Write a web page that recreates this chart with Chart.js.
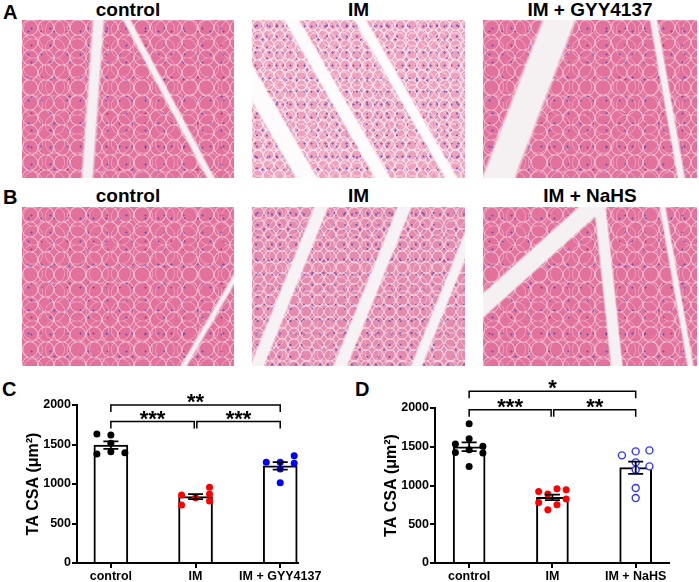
<!DOCTYPE html>
<html>
<head>
<meta charset="utf-8">
<script src="https://cdn.jsdelivr.net/npm/chart.js@4.4.1/dist/chart.umd.min.js"></script>
<style>
  body { margin: 0; width: 699px; height: 582px; background: #fff; position: relative; overflow: hidden;
         font-family: "Liberation Sans", Arial, sans-serif; font-weight: bold; color: #000; }
  .lbl { position: absolute; font-size: 20px; line-height: 1; }
  .tt { position: absolute; font-size: 19px; line-height: 1; text-align: center; }
  .img { position: absolute; }
  canvas { position: absolute; }
</style>
</head>
<body>
<div class="lbl" style="left:3px;top:2px">A</div>
<div class="lbl" style="left:3px;top:187px">B</div>
<div class="lbl" style="left:2px;top:379px">C</div>
<div class="lbl" style="left:355px;top:379px">D</div>

<div class="tt" style="left:22px;top:0;width:212px">control</div>
<div class="tt" style="left:252px;top:0;width:213px">IM</div>
<div class="tt" style="left:483px;top:0;width:214px">IM + GYY4137</div>
<div class="tt" style="left:22px;top:186px;width:212px">control</div>
<div class="tt" style="left:252px;top:186px;width:213px">IM</div>
<div class="tt" style="left:483px;top:186px;width:214px">IM + NaHS</div>

<!-- cortes histologicos (solo aproximacion) -->
<div class="img" id="A1" style="left:22px;top:20px;width:212px;height:158px"></div>
<div class="img" id="A2" style="left:252px;top:20px;width:213px;height:158px"></div>
<div class="img" id="A3" style="left:483px;top:20px;width:214px;height:158px"></div>
<div class="img" id="B1" style="left:22px;top:207px;width:212px;height:159px"></div>
<div class="img" id="B2" style="left:252px;top:207px;width:213px;height:159px"></div>
<div class="img" id="B3" style="left:483px;top:207px;width:214px;height:159px"></div>

<canvas id="graficoC" width="350" height="207" style="left:0;top:375px"></canvas>
<canvas id="graficoD" width="349" height="207" style="left:350px;top:375px"></canvas>

<script>
// datos panel C
const catsC = ['control', 'IM', 'IM + GYY4137'];
const ctrlC = [1633, 1620, 1515, 1380, 1409, 1396];
const imC = [861, 827, 958, 873, 785, 734];
const gyyC = [1275, 1275, 1190, 1358, 1262, 1016];
// carril de cada punto dentro de la columna (como lo reparte Prism)
const ctrlCLane = [-3, 0, 0, -3, 0, 3];
const imCLane = [-3, 0, 3, 3, 3, -3];
const gyyCLane = [-3, 0, 0, 3, 3, 0];

// datos panel D
const catsD = ['control', 'IM', 'IM + NaHS'];
const ctrlD = [1797, 1604, 1535, 1505, 1462, 1427, 1419, 1246];
const imD = [959, 946, 924, 890, 826, 782, 752, 688];
const nahsD = [1453, 1440, 1389, 1298, 1247, 1204, 968, 839];
const ctrlDLane = [0, 0, -3, 3, 0, -3, 3, 0];
const imDLane = [1, 3, -3, -1, 3, -3, 1, -1];
const nahsDLane = [3, 0, -3, 0, 3, 0, 0, 0];

const yTicks = [0, 500, 1000, 1500, 2000];
// [desde, hasta, altura, texto]
const sigC = [[0, 2, 2000, '**'], [0, 1, 1790, '***'], [1, 2, 1790, '***']];
const sigD = [[0, 2, 2215, '*'], [0, 1, 1978, '***'], [1, 2, 1978, '**']];

const LANE = 0.055;

// textura de los cortes (fibras + nucleos), no son datos
const W = '#f5f0f2';
function anillo(r, c) {
  return `radial-gradient(circle, transparent 0 ${r}px, ${c} ${r + 0.5}px ${r + 1.1}px, transparent ${r + 1.6}px)`;
}
const nucleo = 'radial-gradient(circle, rgba(95,70,170,.75) 0 .8px, transparent 1.4px)';
const tejidos = {
  ctl: { base: '#e2729c', capas: [anillo(6.8, 'rgba(250,228,238,.55)'), anillo(8.8, 'rgba(250,228,238,.3)'), nucleo, nucleo],
         tam: ['16px 15px', '22px 19px', '19px 17px', '13px 23px'] },
  im: { base: '#eea0bd', capas: [anillo(4.3, 'rgba(255,246,250,.7)'), anillo(5.6, 'rgba(255,246,250,.4)'), nucleo, nucleo],
        tam: ['11px 10px', '14px 13px', '10px 11px', '7px 13px'] },
  im2: { base: '#e68aae', capas: [anillo(4.7, 'rgba(250,236,242,.65)'), anillo(6.1, 'rgba(250,236,242,.35)'), nucleo, nucleo],
         tam: ['12px 11px', '16px 14px', '11px 12px', '8px 15px'] }
};
const cortes = [
  ['A1', 'ctl', [`linear-gradient(94deg, transparent 0 31%, ${W} 32.5% 36%, transparent 37.5%)`,
                 `linear-gradient(62deg, transparent 0 62%, ${W} 63% 64.5%, transparent 65.5%)`]],
  ['A2', 'im', [`linear-gradient(60deg, transparent 0 14%, #fdfbfc 15% 21%, transparent 22% 40%, #fdfbfc 41% 45%, transparent 46% 63%, #fdfbfc 64% 67%, transparent 68%)`]],
  ['A3', 'ctl', [`linear-gradient(111deg, transparent 0 21%, ${W} 22.5% 33%, transparent 34.5%)`,
                 `linear-gradient(80deg, transparent 0 80%, ${W} 81% 83%, transparent 84%)`]],
  ['B1', 'ctl', [`linear-gradient(120deg, transparent 0 82%, ${W} 83% 84%, transparent 85%)`]],
  ['B2', 'im2', [`linear-gradient(112deg, transparent 0 22%, #f7f3f4 23% 27%, transparent 28% 52%, #f7f3f4 53% 57%, transparent 58% 80%, #f7f3f4 81% 84%, transparent 85%)`]],
  ['B3', 'ctl', [`linear-gradient(138deg, transparent 0 24%, ${W} 25% 31%, transparent 32%)`,
                 `linear-gradient(84deg, transparent 0 55%, ${W} 56% 60%, transparent 61%)`,
                 `linear-gradient(80deg, transparent 0 84%, ${W} 85% 86.5%, transparent 87.5%)`]]
];
cortes.forEach(([id, tipo, bandas]) => {
  const t = tejidos[tipo];
  const el = document.getElementById(id);
  el.style.backgroundColor = t.base;
  el.style.backgroundImage = bandas.concat(t.capas).join(',');
  el.style.backgroundSize = bandas.map(() => '100% 100%').concat(t.tam).join(',');
});

Chart.defaults.font.family = '"Liberation Sans", Arial, sans-serif';
Chart.defaults.font.weight = 'bold';
Chart.defaults.color = '#000';

function media(a) { return a.reduce((s, v) => s + v, 0) / a.length; }
function sem(a) {
  const m = media(a);
  const v = a.reduce((s, x) => s + (x - m) * (x - m), 0) / (a.length - 1);
  return Math.sqrt(v / a.length);
}

// barras de error y corchetes de significancia
const extras = {
  id: 'extras',
  afterDatasetsDraw(chart, args, o) {
    const { ctx, scales: { x, y } } = chart;
    ctx.save();
    ctx.strokeStyle = '#000';
    ctx.lineWidth = 1.8;
    o.groups.forEach((g, i) => {
      const m = media(g), s = sem(g);
      const cx = x.getPixelForValue(i);
      const t = y.getPixelForValue(m + s), b = y.getPixelForValue(m - s);
      ctx.beginPath();
      ctx.moveTo(cx, t); ctx.lineTo(cx, b);
      ctx.moveTo(cx - 7.5, t); ctx.lineTo(cx + 7.5, t);
      ctx.moveTo(cx - 7.5, b); ctx.lineTo(cx + 7.5, b);
      ctx.stroke();
    });
    ctx.lineWidth = 1.5;
    ctx.fillStyle = '#000';
    ctx.font = 'bold 22px "Liberation Sans", Arial, sans-serif';
    ctx.textAlign = 'center';
    ctx.textBaseline = 'alphabetic';
    o.sig.forEach(([a, b, h, txt]) => {
      const yy = y.getPixelForValue(h);
      let xa = x.getPixelForValue(a), xb = x.getPixelForValue(b);
      if (o.sig.some(s => s[2] === h && s[1] === a)) xa += 1.3;
      if (o.sig.some(s => s[2] === h && s[0] === b)) xb -= 1.3;
      ctx.beginPath();
      ctx.moveTo(xa, yy + 7); ctx.lineTo(xa, yy); ctx.lineTo(xb, yy); ctx.lineTo(xb, yy + 7);
      ctx.stroke();
      ctx.fillText(txt, (xa + xb) / 2, yy + 4);
    });
    ctx.restore();
  }
};

function grafico(id, cats, groups, lanes, colores, huecos, cfg) {
  const datasets = [{
    type: 'bar',
    data: groups.map((g, i) => ({ x: i, y: media(g) })),
    backgroundColor: '#fff',
    borderColor: '#000',
    borderWidth: 2,
    barThickness: cfg.barPx,
    order: 2
  }];
  groups.forEach((g, i) => {
    datasets.push({
      type: 'scatter',
      data: g.map((v, k) => ({ x: i + lanes[i][k] * LANE, y: v })),
      pointRadius: 3.5,
      pointBackgroundColor: huecos[i] ? '#fff' : colores[i],
      pointBorderColor: colores[i],
      pointBorderWidth: huecos[i] ? 1.4 : 0,
      order: 1
    });
  });

  const ejeGrid = { display: true, drawOnChartArea: false, drawTicks: true, tickLength: 5, color: '#000', lineWidth: 2, offset: false };
  const ejeBorde = { display: true, color: '#000', width: 2 };

  new Chart(document.getElementById(id), {
    type: 'bar',
    data: { datasets },
    options: {
      responsive: false,
      animation: false,
      events: [],
      layout: { padding: { top: cfg.top, right: cfg.right, left: 0, bottom: 0 } },
      plugins: {
        legend: { display: false },
        tooltip: { enabled: false },
        extras: { groups, sig: cfg.sig }
      },
      scales: {
        x: {
          type: 'linear',
          min: cfg.xMin,
          max: cfg.xMax,
          offset: false,
          afterBuildTicks: s => { s.ticks = cats.map((c, i) => ({ value: i })); },
          afterFit: s => { s.height = cfg.xh; },
          grid: ejeGrid,
          border: ejeBorde,
          ticks: { callback: v => cats[v], color: '#000', font: { size: 12.5, weight: 'bold' }, padding: 1, maxRotation: 0, autoSkip: false }
        },
        y: {
          min: 0,
          max: 2000,
          afterBuildTicks: s => { s.ticks = yTicks.map(v => ({ value: v })); },
          afterFit: s => { s.width = cfg.yw; },
          grid: ejeGrid,
          border: ejeBorde,
          ticks: { callback: v => String(v), color: '#000', font: { size: 12.5, weight: 'bold' }, padding: 1 },
          title: { display: true, text: 'TA CSA (μm²)', color: '#000', font: { size: 16, weight: 'bold' }, padding: { top: cfg.titlePad, bottom: 0 } }
        }
      }
    },
    plugins: [extras]
  });
}

grafico('graficoC', catsC, [ctrlC, imC, gyyC], [ctrlCLane, imCLane, gyyCLane],
  ['#000', '#ff0000', '#0000ff'], [false, false, false],
  { barPx: 34, top: 30, right: 52, xh: 19, yw: 77, xMin: -0.4, xMax: 2.21, titlePad: 23.7, sig: sigC });

grafico('graficoD', catsD, [ctrlD, imD, nahsD], [ctrlDLane, imDLane, nahsDLane],
  ['#000', '#ff0000', '#3333ff'], [false, false, true],
  { barPx: 32, top: 33, right: 30, xh: 19, yw: 85, xMin: -0.41, xMax: 2.4, titlePad: 32.2, sig: sigD });
</script>
</body>
</html>
